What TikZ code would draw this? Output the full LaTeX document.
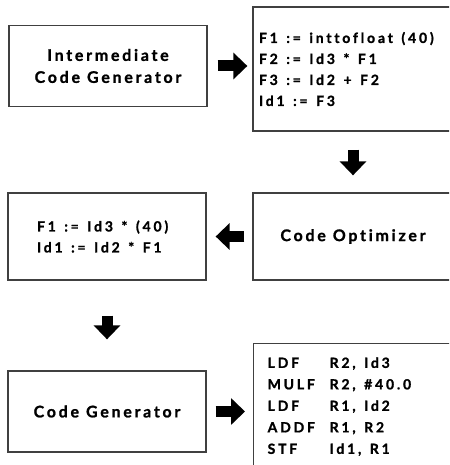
\documentclass[tikz,border=0pt]{standalone}
\usepackage{fontspec}
\setmainfont{Lato}
\newfontfamily\boxfont[LetterSpace=17,Ligatures=NoCommon,BoldFeatures={FakeBold=1.2}]{Lato}
\newfontfamily\codefont[LetterSpace=20,Ligatures=NoCommon,BoldFeatures={FakeBold=1.2}]{Lato}
\usetikzlibrary{arrows.meta}
\tikzset{
  box/.style={draw=black!75, line width=1.3pt, minimum width=198pt, minimum height=81pt, inner xsep=2pt,
    text width=190pt, font=\boxfont\bfseries\fontsize{16}{22}\selectfont, align=center},
  codebox/.style={box, font=\codefont\bfseries\fontsize{14}{21}\selectfont, align=left},
  bigarrow/.style={line width=11pt, -{Triangle[width=26pt,length=14pt]}}
}
\newcommand\codeline[1]{\mbox{\spaceskip=8.5pt\relax#1}}
\newcommand\opc[1]{\makebox[62pt][l]{#1}}
\begin{document}
\begin{tikzpicture}[x=1pt,y=-1pt]
  \useasboundingbox (0,0) rectangle (449,465);
  \clip (0,0) rectangle (449,465);
  % first row
  \node[box] (igen) at (108,66) {Intermediate\\\mbox{\spaceskip=7pt\relax Code Generator}};
  \node[codebox, minimum width=200pt, minimum height=124pt, text width=188pt, inner xsep=6pt] (tac) at (353,69)
    {\codeline{F1 := inttofloat (40)}\\\codeline{F2 := Id3 * F1}\\\codeline{F3 := Id2 + F2}\\\codeline{Id1 := F3}};
  % second row
  \node[box, minimum width=200pt, minimum height=87pt] (opt) at (353,236.5) {\mbox{\spaceskip=7pt\relax Code Optimizer}};
  \node[codebox, minimum height=87pt, text width=140pt] (ocode) at (107,236.5)
    {\codeline{F1 := Id3 * (40)}\\\codeline{Id1 := Id2 * F1}};
  % third row
  \node[box, minimum height=81pt] (cgen) at (107,411.5) {\mbox{\spaceskip=7pt\relax Code Generator}};
  \node[codebox, minimum width=200pt, minimum height=126pt, text width=172pt, inner xsep=14pt, anchor=north west] (asm) at (253,343)
    {\codeline{\opc{LDF}R2, Id3}\\[0.5pt]\codeline{\opc{MULF}R2, \#40.0}\\[0.5pt]\codeline{\opc{LDF}R1, Id2}\\[0.5pt]\codeline{\opc{ADDF}R1, R2}\\[0.5pt]\codeline{\opc{STF}Id1, R1}};
  % arrows
  \draw[bigarrow, shorten <=10pt, shorten >=5pt] (igen.east) -- (tac.west |- igen.east);
  \draw[bigarrow, shorten <=18pt, shorten >=17pt] (tac.south) -- (opt.north);
  \draw[bigarrow, shorten <=8pt, shorten >=9pt] (opt.west) -- (ocode.east);
  \draw[bigarrow, shorten <=35pt, shorten >=31pt] (ocode.south) -- (cgen.north);
  \draw[bigarrow, shorten <=9pt, shorten >=8pt] (cgen.east) -- (asm.west |- cgen.east);
\end{tikzpicture}
\end{document}
